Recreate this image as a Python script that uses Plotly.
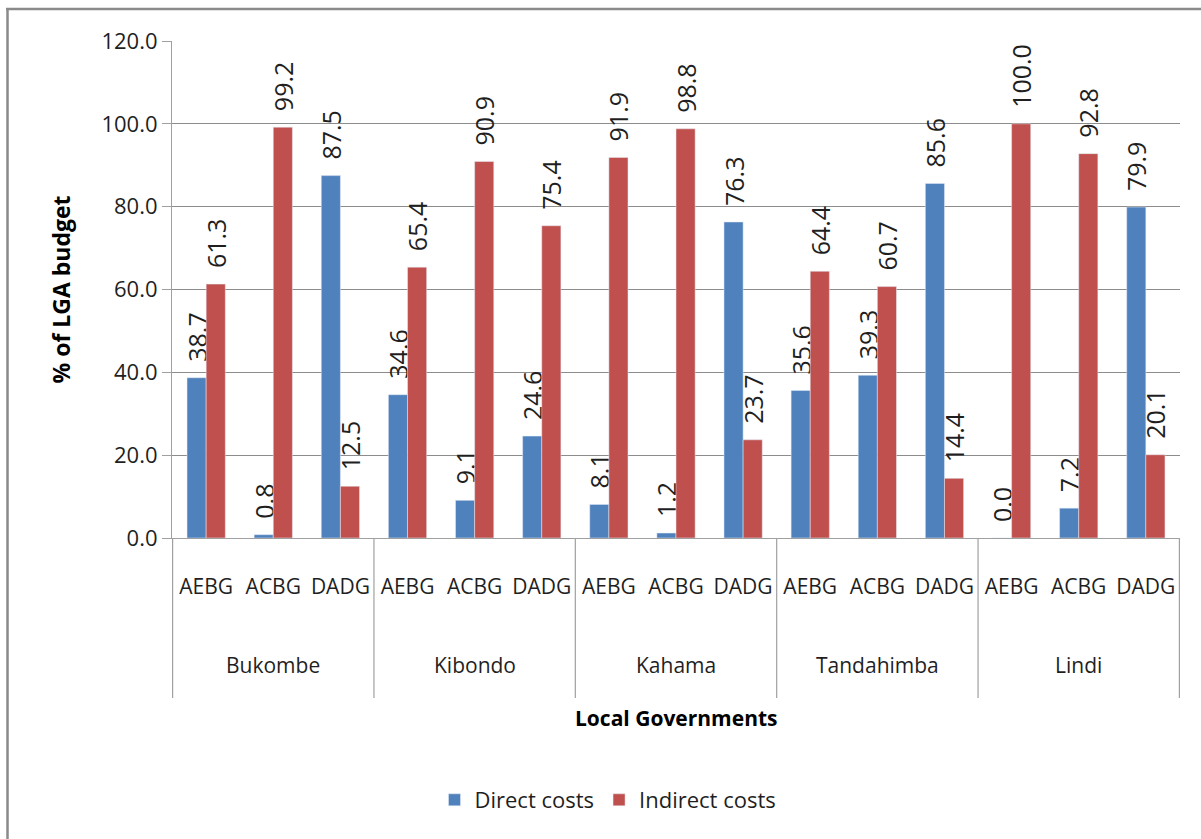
import plotly.graph_objects as go

groups = ["Bukombe", "Kibondo", "Kahama", "Tandahimba", "Lindi"]
subs = ["AEBG", "ACBG", "DADG"]
direct = [38.7, 0.8, 87.5, 34.6, 9.1, 24.6, 8.1, 1.2, 76.3, 35.6, 39.3, 85.6, 0.0, 7.2, 79.9]
indirect = [61.3, 99.2, 12.5, 65.4, 90.9, 75.4, 91.9, 98.8, 23.7, 64.4, 60.7, 14.4, 100.0, 92.8, 20.1]
y_ticks = [0, 20, 40, 60, 80, 100, 120]

x_cats = [f"{g} {s}" for g in groups for s in subs]
x_text = [s for g in groups for s in subs]

FONT = "Open Sans"
TXT = "#1f1f1f"
LABEL_TMPL = "\u00a0\u00a0%{y:.1f}"

fig = go.Figure()
fig.add_trace(go.Bar(
    x=x_cats, y=direct, name="Direct costs", marker_color="#4F81BD",
    texttemplate=LABEL_TMPL, textposition="outside", textangle=-90,
    constraintext="none", cliponaxis=False,
    textfont=dict(family=FONT, size=25, color=TXT),
))
fig.add_trace(go.Bar(
    x=x_cats, y=indirect, name="Indirect costs", marker_color="#C0504D",
    texttemplate=LABEL_TMPL, textposition="outside", textangle=-90,
    constraintext="none", cliponaxis=False,
    textfont=dict(family=FONT, size=25, color=TXT),
))

ml, mr, mt, mb = 172, 21, 41, 301
W, H = 1201, 839
pw, ph = W - ml - mr, H - mt - mb

def px_to_py(y):
    return (H - mb - y) / ph

def px_to_px(x):
    return (x - ml) / pw

shapes = []
# group dividers
for i in range(len(groups) + 1):
    xv = i * len(subs) - 0.5
    shapes.append(dict(type="line", xref="x", yref="paper", x0=xv, x1=xv,
                       y0=0, y1=px_to_py(698), line=dict(color="#a0a0a0", width=1.2)))
# outer chart border (left and top)
shapes.append(dict(type="line", xref="paper", yref="paper",
                   x0=px_to_px(7.5), x1=px_to_px(7.5), y0=px_to_py(839), y1=px_to_py(9),
                   line=dict(color="#8a8a8a", width=2.5)))
shapes.append(dict(type="line", xref="paper", yref="paper",
                   x0=px_to_px(6), x1=px_to_px(1201), y0=px_to_py(9), y1=px_to_py(9),
                   line=dict(color="#8a8a8a", width=2.5)))

annotations = []
for i, g in enumerate(groups):
    annotations.append(dict(x=i * len(subs) + 1, y=px_to_py(665), xref="x", yref="paper",
                            text=g, showarrow=False, yanchor="middle",
                            font=dict(family=FONT, size=21, color=TXT)))
annotations.append(dict(x=px_to_px(676), y=px_to_py(718), xref="paper", yref="paper",
                        text="<b>Local Governments</b>", showarrow=False, yanchor="middle",
                        font=dict(family=FONT, size=21, color="#000")))

fig.update_layout(
    width=W, height=H,
    margin=dict(l=ml, r=mr, t=mt, b=mb),
    paper_bgcolor="white", plot_bgcolor="white",
    barmode="group", bargap=0.43, bargroupgap=0,
    font=dict(family=FONT, color=TXT),
    shapes=shapes, annotations=annotations,
    legend=dict(orientation="h", x=px_to_px(608), xanchor="center",
                y=px_to_py(800), yanchor="middle",
                font=dict(family=FONT, size=22, color=TXT),
                itemwidth=30, traceorder="normal"),
    xaxis=dict(type="category", tickvals=x_cats, ticktext=x_text,
               showgrid=False, showline=True, linecolor="#a0a0a0", linewidth=1.2,
               ticks="", ticklabelstandoff=30,
               tickfont=dict(family=FONT, size=21, color=TXT)),
    yaxis=dict(range=[0, 120], tickvals=y_ticks, tickformat=".1f",
               showgrid=True, gridcolor="#8c8c8c", gridwidth=1,
               showline=True, linecolor="#a0a0a0", linewidth=1.2,
               ticks="outside", ticklen=9, tickcolor="#a0a0a0",
               tickfont=dict(family=FONT, size=22, color=TXT),
               title=dict(text="<b>% of LGA budget</b>", standoff=24,
                          font=dict(family=FONT, size=23, color="#000"))),
)

fig.write_html("out.html", post_script="document.body.style.margin='0';",
               config={"displayModeBar": False})
